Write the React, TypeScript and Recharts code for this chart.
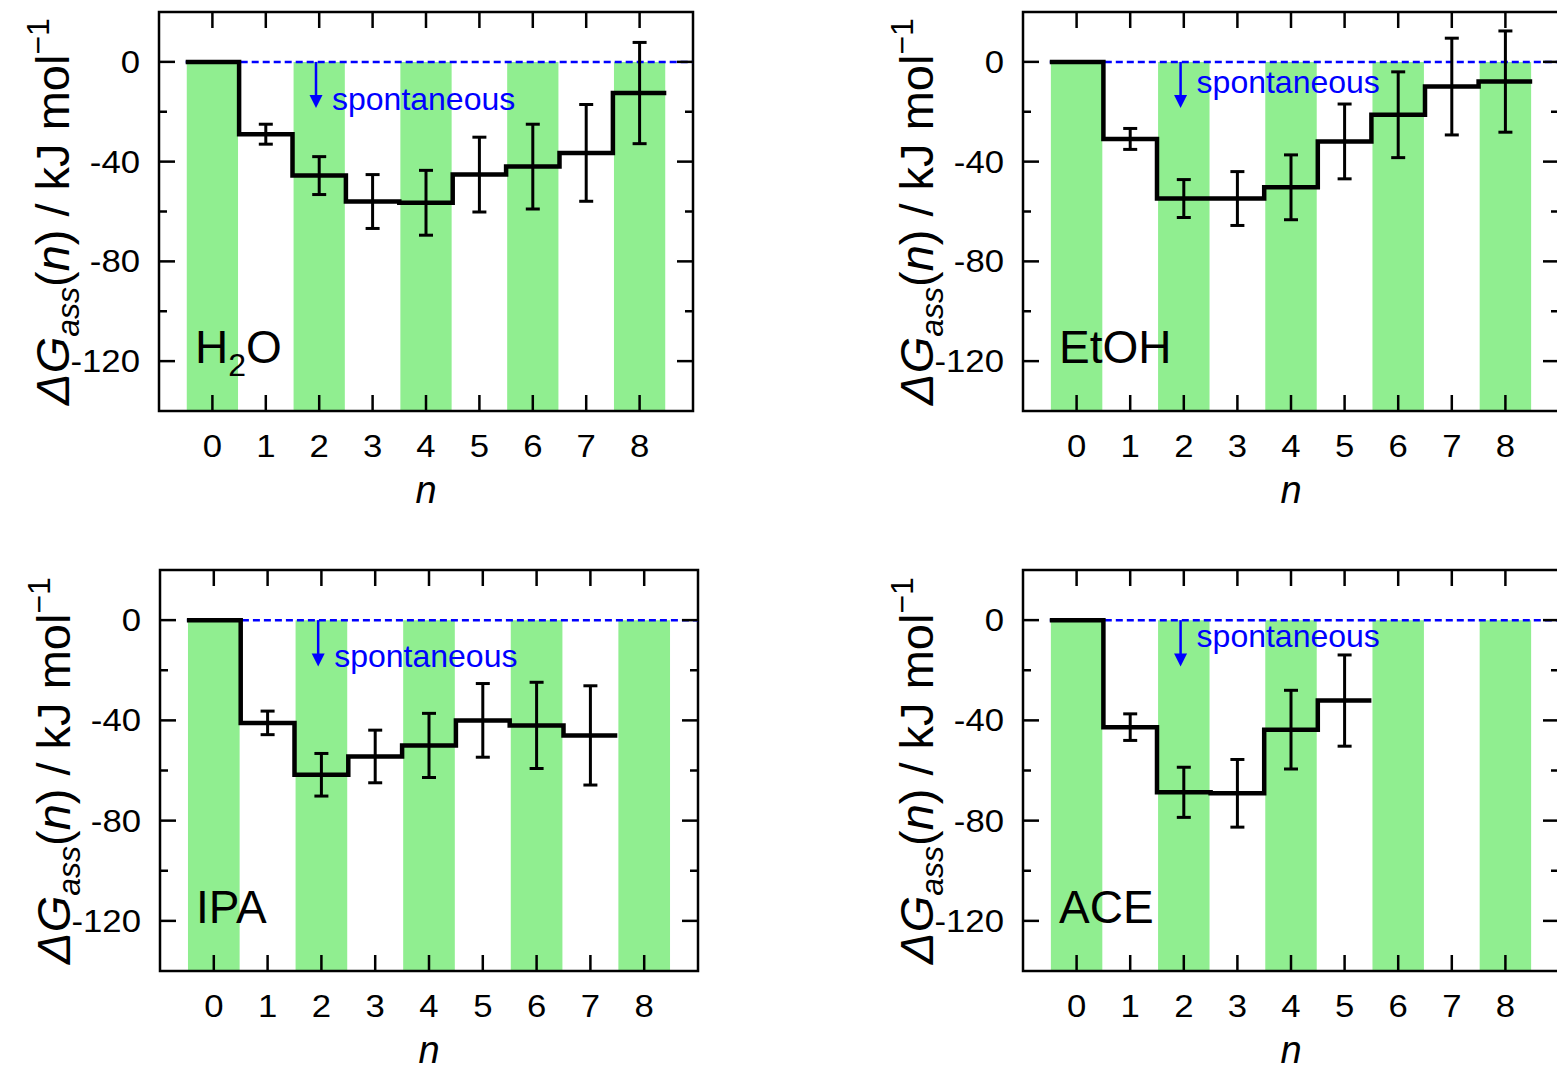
import React from "react";
import {
  ComposedChart,
  Line,
  Scatter,
  ErrorBar,
  XAxis,
  YAxis,
  ReferenceArea,
  ReferenceLine,
} from "recharts";

// cluster size n and tick values
const nTicks = [0, 1, 2, 3, 4, 5, 6, 7, 8];
const yTicks = [-120, -100, -80, -60, -40, -20, 0];
const bandCenters = [0, 2, 4, 6, 8];

// ΔG_ass(n) in kJ/mol, with error bars, per solvent
const h2oG = [0, -29, -45.6, -56, -56.5, -45.2, -42, -36.5, -12.5];
const h2oErr = [0, 4, 7.6, 10.8, 13, 15, 17, 19.4, 20.3];
const etohG = [0, -30.9, -54.8, -54.8, -50.3, -31.9, -21.2, -9.9, -7.9];
const etohErr = [0, 4.2, 7.6, 10.8, 13, 15, 17.2, 19.4, 20.3];
const ipaG = [0, -41, -61.7, -54.4, -50, -40, -42, -46];
const ipaErr = [0, 4.7, 8.5, 10.5, 12.8, 14.7, 17.2, 19.8];
const aceG = [0, -42.7, -68.7, -69.1, -43.7, -32.1];
const aceErr = [0, 5.3, 10, 13.5, 15.7, 18.2];

const FONT = "'Liberation Sans', Arial, Helvetica, sans-serif";
const ML = 160;
const MT = 12;
const MR = 20;
const MB = 110;

type Seg = { t: string; sub?: boolean };

const panels: {
  label: Seg[];
  g: number[];
  err: number[];
  left: number;
  top: number;
  w: number;
  h: number;
  textDy: number;
}[] = [
  { label: [{ t: "H" }, { t: "2", sub: true }, { t: "O" }], g: h2oG, err: h2oErr, left: 159, top: 12, w: 534, h: 399, textDy: 48 },
  { label: [{ t: "EtOH" }], g: etohG, err: etohErr, left: 1023, top: 12, w: 536, h: 399, textDy: 31 },
  { label: [{ t: "IPA" }], g: ipaG, err: ipaErr, left: 160, top: 570, w: 538, h: 401, textDy: 47 },
  { label: [{ t: "ACE" }], g: aceG, err: aceErr, left: 1023, top: 570, w: 536, h: 401, textDy: 27 },
];

function Panel({ p }: { p: (typeof panels)[number] }) {
  // step edges: each n occupies [n-0.5, n+0.5]
  const stepRows = p.g.map((v, n) => ({ x: n - 0.5, y: v }));
  stepRows.push({ x: p.g.length - 0.5, y: p.g[p.g.length - 1] });
  const errRows = p.g
    .map((v, n) => ({ x: n, y: v, e: p.err[n] }))
    .filter((r) => r.e > 0);

  const xTick = (props: any) => {
    const { x, y, payload } = props;
    return (
      <g>
        <line x1={x} x2={x} y1={y} y2={y - 16} stroke="#000" strokeWidth={2.5} />
        <line x1={x} x2={x} y1={y - p.h} y2={y - p.h + 16} stroke="#000" strokeWidth={2.5} />
        <text
          transform={`translate(${x},${y + 46}) scale(1.12,1)`}
          textAnchor="middle"
          fontSize={31}
          fontFamily={FONT}
          fill="#000"
        >
          {payload.value}
        </text>
      </g>
    );
  };

  const yTick = (props: any) => {
    const { x, y, payload } = props;
    const major = payload.value % 40 === 0;
    const len = major ? 16 : 8;
    return (
      <g>
        <line x1={x} x2={x + len} y1={y} y2={y} stroke="#000" strokeWidth={2.5} />
        <line x1={x + p.w} x2={x + p.w - len} y1={y} y2={y} stroke="#000" strokeWidth={2.5} />
        {major && (
          <text
            transform={`translate(${x - 19},${y + 11}) scale(1.12,1)`}
            textAnchor="end"
            fontSize={31}
            fontFamily={FONT}
            fill="#000"
          >
            {payload.value}
          </text>
        )}
      </g>
    );
  };

  const yTitle = () => {
    const cx = ML - 90;
    const cy = MT + p.h / 2;
    return (
      <text
        transform={`translate(${cx},${cy}) rotate(-90)`}
        textAnchor="middle"
        fontSize={47}
        fontFamily={FONT}
        fill="#000"
      >
        <tspan fontStyle="italic">ΔG</tspan>
        <tspan fontStyle="italic" fontSize={32} dy={10}>ass</tspan>
        <tspan dy={-10}>(</tspan>
        <tspan fontStyle="italic">n</tspan>
        <tspan>) / kJ mol</tspan>
        <tspan fontSize={32} dy={-20}>−1</tspan>
      </text>
    );
  };

  const xTitle = () => (
    <text
      x={ML + p.w / 2}
      y={MT + p.h + 92}
      textAnchor="middle"
      fontSize={38}
      fontStyle="italic"
      fontFamily={FONT}
      fill="#000"
    >
      n
    </text>
  );

  const frame = (props: any) => {
    const { x, y, width, height } = props;
    return (
      <g>
        <rect x={x} y={y} width={width} height={height} fill="none" stroke="#000" strokeWidth={2.5} />
        <text x={x + 36} y={y + height - 48} fontSize={46} fontFamily={FONT} fill="#000">
          {p.label.map((s, i) =>
            s.sub ? (
              <tspan key={i} fontSize={32} dy={13}>{s.t}</tspan>
            ) : (
              <tspan key={i} dy={i > 0 && p.label[i - 1].sub ? -13 : 0}>{s.t}</tspan>
            )
          )}
        </text>
      </g>
    );
  };

  const arrow = (props: any) => {
    const { x1, y1, x2, y2 } = props;
    return (
      <g>
        <line x1={x1} y1={y1} x2={x2} y2={y2 - 12} stroke="#0000ff" strokeWidth={2.5} />
        <polygon points={`${x2 - 6.5},${y2 - 13} ${x2 + 6.5},${y2 - 13} ${x2},${y2}`} fill="#0000ff" />
        <text x={x1 + 16} y={y1 + p.textDy} fontSize={32} fontFamily={FONT} fill="#0000ff">
          spontaneous
        </text>
      </g>
    );
  };

  return (
    <div style={{ position: "absolute", left: p.left - ML, top: p.top - MT }}>
      <ComposedChart
        width={ML + p.w + MR}
        height={MT + p.h + MB}
        margin={{ left: ML - 1, top: MT, right: MR, bottom: MB - 1 }}
      >
        <XAxis
          type="number"
          dataKey="x"
          domain={[-1, 9]}
          ticks={nTicks}
          interval={0}
          allowDataOverflow
          axisLine={false}
          tickLine={false}
          tickSize={0}
          tickMargin={0}
          height={1}
          tick={xTick}
          label={{ content: xTitle }}
        />
        <YAxis
          type="number"
          domain={[-140, 20]}
          ticks={yTicks}
          interval={0}
          allowDataOverflow
          axisLine={false}
          tickLine={false}
          tickSize={0}
          tickMargin={0}
          width={1}
          tick={yTick}
          label={{ content: yTitle }}
        />
        {bandCenters.map((c) => (
          <ReferenceArea
            key={c}
            x1={c - 0.48}
            x2={c + 0.48}
            y1={-140}
            y2={0}
            fill="#90ee90"
            fillOpacity={1}
            stroke="none"
          />
        ))}
        <ReferenceLine
          segment={[{ x: -0.5, y: 0 }, { x: 9, y: 0 }]}
          stroke="#0000ff"
          strokeWidth={2.5}
          strokeDasharray="7 4"
        />
        <Line
          data={stepRows}
          dataKey="y"
          type="stepAfter"
          stroke="#000"
          strokeWidth={4.5}
          dot={false}
          isAnimationActive={false}
        />
        <Scatter data={errRows} dataKey="y" shape={() => <g />} isAnimationActive={false}>
          <ErrorBar dataKey="e" direction="y" width={7} stroke="#000" strokeWidth={3} />
        </Scatter>
        <ReferenceLine
          segment={[{ x: 1.94, y: 0 }, { x: 1.94, y: -18.5 }]}
          shape={arrow}
        />
        <ReferenceArea x1={-1} x2={9} y1={-140} y2={20} shape={frame} />
      </ComposedChart>
    </div>
  );
}

export default function App() {
  return (
    <div
      style={{
        position: "absolute",
        left: 0,
        top: 0,
        width: 1557,
        height: 1071,
        overflow: "hidden",
        background: "#fff",
      }}
    >
      {panels.map((p, i) => (
        <Panel key={i} p={p} />
      ))}
    </div>
  );
}
